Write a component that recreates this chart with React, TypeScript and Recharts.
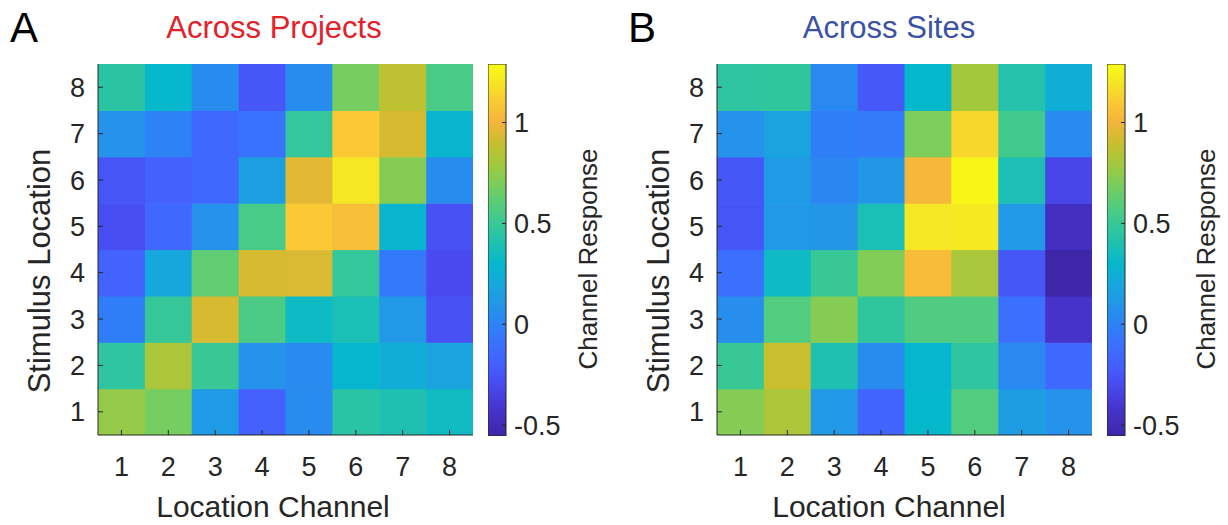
import React from "react";
import { Bar, BarChart, Scatter, ScatterChart, XAxis, YAxis } from "recharts";

const CHANNELS = [1, 2, 3, 4, 5, 6, 7, 8];
const LOCATIONS = [1, 2, 3, 4, 5, 6, 7, 8];

// one row per stimulus location (1 at the bottom), one column per location channel
const ACROSS_PROJECTS = [
  [0.76, 0.68, 0.13, -0.2, 0.05, 0.44, 0.4, 0.34],
  [0.46, 0.82, 0.5, 0.08, 0.04, 0.29, 0.23, 0.18],
  [-0.02, 0.49, 0.93, 0.56, 0.33, 0.38, 0.12, -0.27],
  [-0.18, 0.2, 0.62, 0.93, 0.94, 0.48, -0.05, -0.3],
  [-0.28, -0.15, 0.08, 0.55, 1.1, 1.05, 0.28, -0.27],
  [-0.25, -0.2, -0.15, 0.15, 0.96, 1.2, 0.72, 0.05],
  [0.08, 0.0, -0.15, -0.08, 0.48, 1.1, 0.93, 0.28],
  [0.45, 0.3, 0.05, -0.24, 0.05, 0.68, 0.87, 0.55]
];

const ACROSS_SITES = [
  [0.72, 0.82, 0.12, -0.17, 0.3, 0.58, 0.14, 0.08],
  [0.5, 0.9, 0.4, 0.05, 0.29, 0.46, 0.03, -0.15],
  [0.06, 0.58, 0.72, 0.47, 0.57, 0.57, -0.1, -0.43],
  [-0.1, 0.33, 0.5, 0.71, 1.04, 0.81, -0.24, -0.55],
  [-0.25, 0.12, 0.1, 0.38, 1.2, 1.21, 0.12, -0.47],
  [-0.24, 0.13, 0.02, 0.1, 1.02, 1.27, 0.39, -0.32],
  [0.08, 0.18, -0.02, -0.04, 0.7, 1.15, 0.53, 0.04],
  [0.46, 0.47, 0.03, -0.23, 0.3, 0.8, 0.42, 0.24]
];

const CBAR_TICKS = [-0.5, 0, 0.5, 1];
const C_MIN = -0.554;
const C_MAX = 1.29;

// parula-like colormap: [fraction, r, g, b]
const PARULA = [
  [0.0, 62, 38, 168],
  [0.08, 70, 54, 208],
  [0.14, 72, 75, 240],
  [0.19, 68, 95, 253],
  [0.25, 58, 113, 255],
  [0.3, 45, 130, 245],
  [0.355, 35, 150, 232],
  [0.41, 22, 168, 220],
  [0.46, 5, 183, 205],
  [0.515, 30, 192, 178],
  [0.57, 55, 200, 150],
  [0.625, 88, 205, 122],
  [0.68, 125, 205, 90],
  [0.735, 165, 200, 60],
  [0.79, 202, 190, 45],
  [0.845, 245, 180, 60],
  [0.9, 250, 202, 52],
  [0.95, 245, 230, 35],
  [1.0, 249, 251, 20]
];

const FONT = '"Liberation Sans", Arial, Helvetica, sans-serif';
const INK = "#262626";
const H = 525;
const PLOT_TOP = 64;
const PLOT_W = 375;
const PLOT_H = 371;
const CELL_W = PLOT_W / CHANNELS.length;
const CELL_H = PLOT_H / LOCATIONS.length;

const rgb = (r: number, g: number, b: number) => `rgb(${Math.round(r)},${Math.round(g)},${Math.round(b)})`;

function parula(t: number) {
  const f = Math.max(0, Math.min(1, t));
  for (let i = 1; i < PARULA.length; i++) {
    const [f1, r1, g1, b1] = PARULA[i];
    if (f <= f1) {
      const [f0, r0, g0, b0] = PARULA[i - 1];
      const k = (f - f0) / (f1 - f0);
      return rgb(r0 + (r1 - r0) * k, g0 + (g1 - g0) * k, b0 + (b1 - b0) * k);
    }
  }
  const last = PARULA[PARULA.length - 1];
  return rgb(last[1], last[2], last[3]);
}

const colorFor = (v: number) => parula((v - C_MIN) / (C_MAX - C_MIN));

const tickStyle = { fill: INK, fontSize: 27, fontFamily: FONT };

function Heatmap({ grid, left }: { grid: number[][]; left: number }) {
  const data = LOCATIONS.flatMap((loc, r) => CHANNELS.map((ch, c) => ({ x: ch, y: loc, v: grid[r][c] })));
  return (
    <div style={{ position: "absolute", left, top: 0 }}>
      <ScatterChart width={98 + PLOT_W + 7} height={H} margin={{ top: PLOT_TOP, right: 7, bottom: 0, left: 0 }}>
        <Scatter
          xAxisId="b"
          yAxisId="l"
          data={data}
          zIndex={100}
          isAnimationActive={false}
          shape={(p: any) => (
            <rect
              x={p.cx - CELL_W / 2}
              y={p.cy - CELL_H / 2}
              width={CELL_W + 0.6}
              height={CELL_H + 0.6}
              fill={colorFor(p.payload.v)}
            />
          )}
        />
        <XAxis
          xAxisId="b"
          dataKey="x"
          type="number"
          domain={[0.5, 8.5]}
          ticks={CHANNELS}
          allowDataOverflow
          height={H - PLOT_TOP - PLOT_H}
          tickSize={-5}
          tickMargin={27}
          tick={tickStyle}
          axisLine={{ stroke: INK }}
          tickLine={{ stroke: INK }}
        />
        <XAxis
          xAxisId="t"
          orientation="top"
          type="number"
          domain={[0.5, 8.5]}
          ticks={CHANNELS}
          allowDataOverflow
          height={0}
          tickSize={-5}
          tick={false}
          axisLine={{ stroke: INK }}
          tickLine={{ stroke: INK }}
        />
        <YAxis
          yAxisId="l"
          dataKey="y"
          type="number"
          domain={[0.5, 8.5]}
          ticks={LOCATIONS}
          allowDataOverflow
          width={98}
          tickSize={-5}
          tickMargin={18}
          tick={tickStyle}
          axisLine={{ stroke: INK }}
          tickLine={{ stroke: INK }}
        />
        <YAxis
          yAxisId="r"
          orientation="right"
          type="number"
          domain={[0.5, 8.5]}
          ticks={LOCATIONS}
          allowDataOverflow
          width={0}
          tickSize={-5}
          tick={false}
          axisLine={{ stroke: INK }}
          tickLine={{ stroke: INK }}
        />
      </ScatterChart>
    </div>
  );
}

function Colorbar({ left, id }: { left: number; id: string }) {
  const cbar = [{ name: "cbar", range: [C_MIN, C_MAX] }];
  return (
    <div style={{ position: "absolute", left, top: 0 }}>
      <BarChart
        width={18 + 90}
        height={H}
        data={cbar}
        margin={{ top: PLOT_TOP, right: 0, bottom: H - 436, left: 0 }}
        barCategoryGap={0}
      >
        <defs>
          <linearGradient id={id} x1="0" y1="1" x2="0" y2="0">
            {PARULA.map(([f, r, g, b]) => (
              <stop key={f} offset={f} stopColor={rgb(r, g, b)} />
            ))}
          </linearGradient>
        </defs>
        <Bar dataKey="range" fill={`url(#${id})`} stroke={INK} strokeWidth={1} isAnimationActive={false} />
        <XAxis dataKey="name" hide />
        <YAxis
          orientation="right"
          type="number"
          domain={[C_MIN, C_MAX]}
          ticks={CBAR_TICKS}
          allowDataOverflow
          width={90}
          tickSize={-4}
          tickMargin={12}
          tick={tickStyle}
          axisLine={false}
          tickLine={{ stroke: INK }}
        />
      </BarChart>
    </div>
  );
}

export default function App() {
  return (
    <div style={{ position: "fixed", left: 0, top: 0, width: 1228, height: H, background: "#fff" }}>
      <Heatmap grid={ACROSS_PROJECTS} left={0} />
      <Colorbar left={488} id="parulaA" />
      <Heatmap grid={ACROSS_SITES} left={619} />
      <Colorbar left={1107} id="parulaB" />
      <svg
        width={1228}
        height={H}
        style={{ position: "absolute", left: 0, top: 0, pointerEvents: "none" }}
        fontFamily={FONT}
      >
        <text x={10} y={42} fontSize={42} fill="#000">A</text>
        <text x={628} y={42} fontSize={42} fill="#000">B</text>
        <text x={274} y={38} fontSize={31} fill="#e4202a" textAnchor="middle">Across Projects</text>
        <text x={889} y={38} fontSize={31} fill="#3a52a6" textAnchor="middle">Across Sites</text>
        <text transform="translate(50,271) rotate(-90)" fontSize={31} fill={INK} textAnchor="middle">Stimulus Location</text>
        <text transform="translate(669,271) rotate(-90)" fontSize={31} fill={INK} textAnchor="middle">Stimulus Location</text>
        <text x={273} y={517} fontSize={30} fill={INK} textAnchor="middle">Location Channel</text>
        <text x={889} y={517} fontSize={30} fill={INK} textAnchor="middle">Location Channel</text>
        <text transform="translate(597,259) rotate(-90)" fontSize={26} fill={INK} textAnchor="middle">Channel Response</text>
        <text transform="translate(1215,259) rotate(-90)" fontSize={26} fill={INK} textAnchor="middle">Channel Response</text>
      </svg>
    </div>
  );
}
